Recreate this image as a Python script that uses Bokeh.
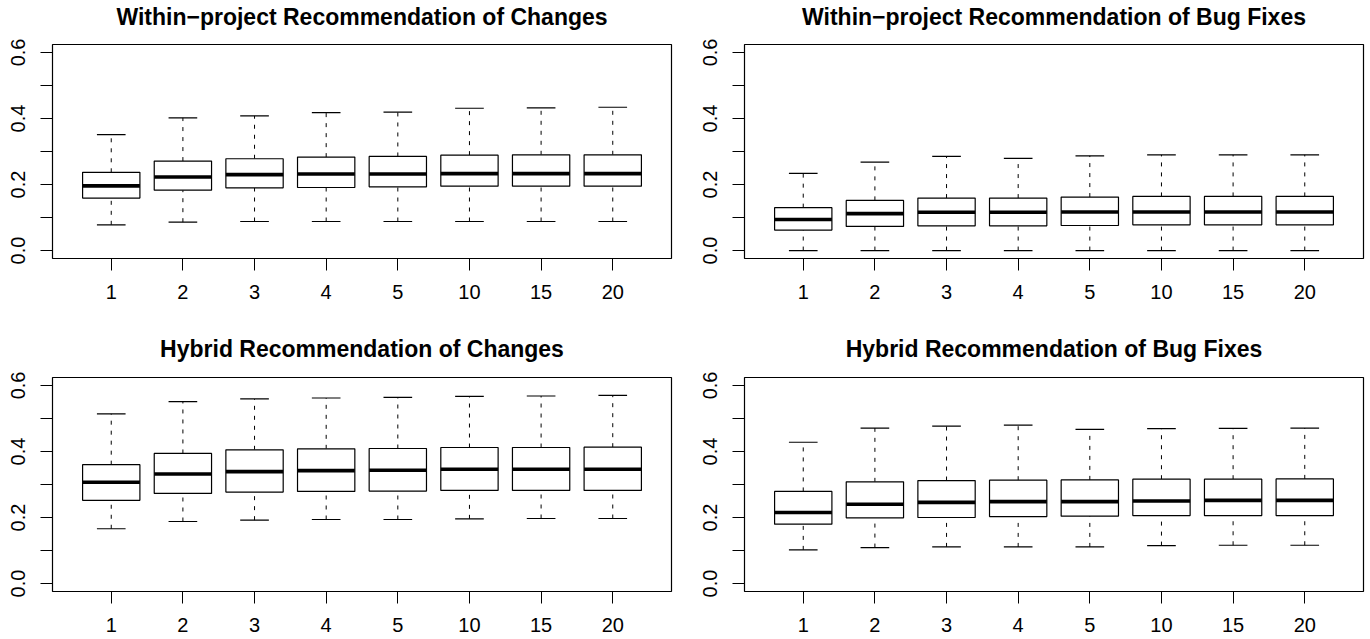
import numpy as np
from bokeh.plotting import figure
from bokeh.layouts import row, column
from bokeh.models import Range1d, FixedTicker, PrintfTickFormatter
from bokeh.embed import file_html
from bokeh.resources import INLINE

categories = ["1", "2", "3", "4", "5", "10", "15", "20"]

# Within-project Recommendation of Changes
wc_lower = [0.078, 0.086, 0.088, 0.088, 0.088, 0.088, 0.088, 0.088]
wc_q1 = [0.159, 0.183, 0.190, 0.191, 0.193, 0.195, 0.195, 0.195]
wc_med = [0.196, 0.223, 0.230, 0.232, 0.232, 0.233, 0.233, 0.233]
wc_q3 = [0.237, 0.271, 0.278, 0.283, 0.285, 0.289, 0.290, 0.290]
wc_upper = [0.351, 0.402, 0.408, 0.418, 0.419, 0.431, 0.432, 0.434]

# Within-project Recommendation of Bug Fixes
wb_lower = [0.0, 0.0, 0.0, 0.0, 0.0, 0.0, 0.0, 0.0]
wb_q1 = [0.062, 0.073, 0.075, 0.075, 0.076, 0.078, 0.078, 0.078]
wb_med = [0.094, 0.112, 0.116, 0.116, 0.117, 0.117, 0.117, 0.117]
wb_q3 = [0.130, 0.152, 0.159, 0.159, 0.162, 0.164, 0.164, 0.164]
wb_upper = [0.234, 0.268, 0.285, 0.279, 0.287, 0.290, 0.290, 0.290]

# Hybrid Recommendation of Changes
hc_lower = [0.166, 0.188, 0.192, 0.194, 0.194, 0.196, 0.197, 0.197]
hc_q1 = [0.252, 0.273, 0.277, 0.279, 0.280, 0.282, 0.282, 0.282]
hc_med = [0.307, 0.332, 0.339, 0.342, 0.343, 0.346, 0.346, 0.346]
hc_q3 = [0.360, 0.394, 0.405, 0.408, 0.409, 0.412, 0.412, 0.413]
hc_upper = [0.514, 0.551, 0.559, 0.562, 0.564, 0.567, 0.568, 0.570]

# Hybrid Recommendation of Bug Fixes
hb_lower = [0.102, 0.109, 0.111, 0.111, 0.111, 0.115, 0.116, 0.116]
hb_q1 = [0.180, 0.199, 0.200, 0.203, 0.204, 0.206, 0.206, 0.206]
hb_med = [0.215, 0.240, 0.246, 0.248, 0.248, 0.250, 0.252, 0.252]
hb_q3 = [0.279, 0.308, 0.312, 0.313, 0.314, 0.316, 0.316, 0.317]
hb_upper = [0.428, 0.471, 0.477, 0.480, 0.467, 0.469, 0.470, 0.471]

titles = [
    "Within\u2212project Recommendation of Changes",
    "Within\u2212project Recommendation of Bug Fixes",
    "Hybrid Recommendation of Changes",
    "Hybrid Recommendation of Bug Fixes",
]

FONT = "Liberation Sans"
BOXW = 0.8
X0, X1 = 0.18, 8.82
Y0, Y1 = -0.024, 0.624


def make_panel(title, lower, q1, med, q3, upper, width, height, bl, br, bt, bb, t_standoff):
    p = figure(width=width, height=height, output_backend="svg", toolbar_location=None,
               x_range=Range1d(X0, X1), y_range=Range1d(Y0, Y1),
               min_border_left=bl, min_border_right=br, min_border_top=bt, min_border_bottom=bb)
    pos = np.arange(1, len(categories) + 1)
    lower = np.array(lower); q1 = np.array(q1); med = np.array(med)
    q3 = np.array(q3); upper = np.array(upper)

    # whiskers (dashed)
    p.segment(x0=pos, x1=pos, y0=q3, y1=upper, line_color="black", line_width=1, line_dash="4 6")
    p.segment(x0=pos, x1=pos, y0=lower, y1=q1, line_color="black", line_width=1, line_dash="4 6")
    # staples
    p.segment(x0=pos - BOXW / 4, x1=pos + BOXW / 4, y0=upper, y1=upper, line_color="black", line_width=1.2)
    p.segment(x0=pos - BOXW / 4, x1=pos + BOXW / 4, y0=lower, y1=lower, line_color="black", line_width=1.2)
    # boxes
    p.vbar(x=pos, width=BOXW, bottom=q1, top=q3, fill_color="white", line_color="black", line_width=1.2)
    # medians
    p.segment(x0=pos - BOXW / 2, x1=pos + BOXW / 2, y0=med, y1=med, line_color="black", line_width=3.6)

    p.title.text = title
    p.title.align = "center"
    p.title.text_font = FONT
    p.title.text_font_size = "23px"
    p.title.text_font_style = "bold"
    p.title.text_color = "black"
    p.title.standoff = t_standoff

    p.xgrid.visible = False
    p.ygrid.visible = False
    p.outline_line_color = "black"
    p.outline_line_width = 1.2
    p.outline_line_alpha = 1.0
    p.background_fill_color = "white"
    p.border_fill_color = "white"

    xa = p.xaxis[0]
    xa.ticker = FixedTicker(ticks=list(pos), minor_ticks=[])
    xa.major_label_overrides = {int(i): c for i, c in zip(pos, categories)}
    xa.axis_line_color = None
    xa.major_tick_out = 12
    xa.major_tick_in = 0
    xa.major_tick_line_color = "black"
    xa.minor_tick_line_color = None
    xa.major_label_text_font = FONT
    xa.major_label_text_font_size = "20px"
    xa.major_label_text_color = "black"
    xa.major_label_standoff = 14

    ya = p.yaxis[0]
    ya.ticker = FixedTicker(ticks=[0.0, 0.2, 0.4, 0.6], minor_ticks=[0.1, 0.3, 0.5])
    ya.formatter = PrintfTickFormatter(format="%.1f")
    ya.axis_line_color = None
    ya.major_tick_out = 12
    ya.major_tick_in = 0
    ya.minor_tick_out = 12
    ya.minor_tick_in = 0
    ya.major_tick_line_color = "black"
    ya.minor_tick_line_color = "black"
    ya.major_label_orientation = "vertical"
    ya.major_label_text_font = FONT
    ya.major_label_text_font_size = "20px"
    ya.major_label_text_color = "black"
    ya.major_label_standoff = 15
    return p


# top row: frame at y 44..258 on the page; figure starts 16 px above the page top
p1 = make_panel(titles[0], wc_lower, wc_q1, wc_med, wc_q3, wc_upper, 690, 336, 52, 19, 60, 62, 30)
p2 = make_panel(titles[1], wb_lower, wb_q1, wb_med, wb_q3, wb_upper, 680, 336, 54, 7, 60, 62, 30)
# bottom row: frame at y 377..591 on the page; figure starts at y 317
p3 = make_panel(titles[2], hc_lower, hc_q1, hc_med, hc_q3, hc_upper, 690, 322, 52, 19, 60, 48, 32)
p4 = make_panel(titles[3], hb_lower, hb_q1, hb_med, hb_q3, hb_upper, 680, 322, 54, 7, 60, 48, 32)

top = row(p1, p2, spacing=0, margin=(-16, 0, 0, 0))
bottom = row(p3, p4, spacing=0, margin=(-3, 0, 0, 0))
layout = column(top, bottom, spacing=0)

html = file_html(layout, INLINE)
open("out.html", "w").write(html)
